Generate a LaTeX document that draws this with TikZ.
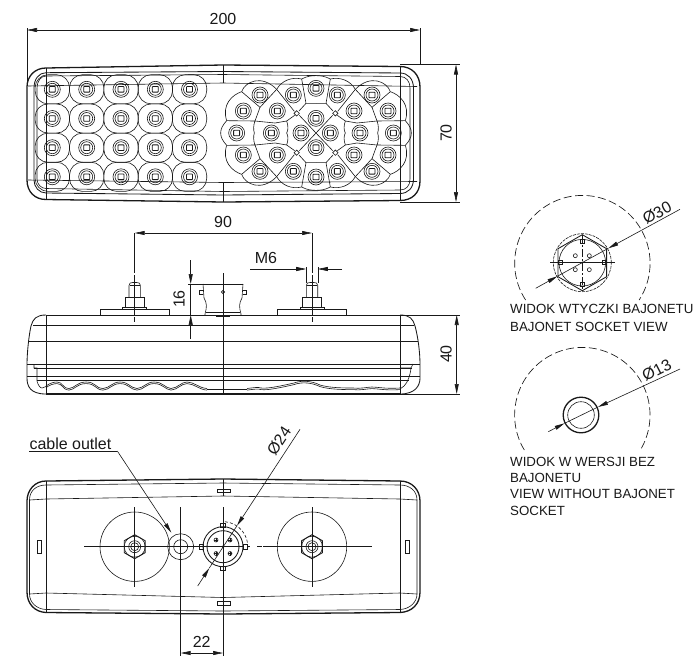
\documentclass[tikz,border=0pt]{standalone}
\usepackage{fontspec}
\setmainfont{Liberation Sans}
\usetikzlibrary{arrows.meta}
\definecolor{ink}{gray}{0.1}
\tikzset{
  thinl/.style={draw=ink,line width=0.6pt},
  medl/.style={draw=ink,line width=0.85pt},
  thickl/.style={draw=ink,line width=1.3pt},
  diml/.style={draw=ink,line width=0.6pt},
  dimar/.style={diml,{Stealth[length=10pt,width=4pt,inset=0pt]}-{Stealth[length=10pt,width=4pt,inset=0pt]}},
  endar/.style={diml,-{Stealth[length=10pt,width=4pt,inset=0pt]}},
  dashc/.style={draw=ink,line width=0.65pt,dash pattern=on 7pt off 3pt},
  dimtext/.style={font=\fontsize{16}{18}\selectfont,text=ink,inner sep=0pt},
  captext/.style={font=\fontsize{13.3}{16}\selectfont,text=ink,inner sep=0pt,anchor=west},
}
\newcommand{\ledmark}[2]{%
  \draw[thinl] (#1,#2) circle (8pt);
  \draw[thinl] (#1,#2) circle (6pt);
  \draw[medl,rounded corners=0.6pt] (#1,#2) ++(-3pt,-2.8pt) rectangle ++(6pt,5.6pt);
}
\newcommand{\studnut}[1]{%
  \draw[thinl] (#1-34.5,315) -- (#1-34.5,309) -- (#1+34.5,309) -- (#1+34.5,315);
  \draw[thinl] (#1-12,309) -- (#1-12,307) -- (#1+12,307) -- (#1+12,309);
  \draw[thinl] (#1-9.5,307) -- (#1-9.5,297) -- (#1+9.5,297) -- (#1+9.5,307);
  \draw[thinl] (#1-5.7,297) -- (#1-5.7,285.5) .. controls (#1-5.7,283) and (#1-4,282.5) .. (#1-2,282.5) -- (#1+2,282.5) .. controls (#1+4,282.5) and (#1+5.7,283) .. (#1+5.7,285.5) -- (#1+5.7,297);
  \draw[thinl] (#1-5.2,285) -- (#1+5.2,285);
}
\newcommand{\hexbolt}[1]{%
  \draw[medl] (#1,534.7) -- (#1+10.4,540.7) -- (#1+10.4,552.7) -- (#1,558.7) -- (#1-10.4,552.7) -- (#1-10.4,540.7) -- cycle;
  \draw[thinl] (#1,546.7) circle (10.5pt);
  \draw[thinl] (#1,546.7) circle (6pt);
  \draw[thinl] (#1,546.7) circle (4pt);
  \draw[thinl] (#1,546.7) circle (34.7pt);
  \draw[thinl] (#1,507) -- (#1,587);
}
\begin{document}
\begin{tikzpicture}[x=1pt,y=-1pt]
\useasboundingbox (0,0) rectangle (700,659);
\fill[white] (0,0) rectangle (700,659);

%% ---------- TOP VIEW ----------
\draw[thickl] (46,68) -- (223,65) -- (400,66.5) .. controls (412,66.5) and (420,75) .. (420,87)
  -- (420,181) .. controls (420,193) and (412,200.5) .. (400,200.5) -- (223,202) -- (46,199.5)
  .. controls (35,199.5) and (27,192) .. (27,180) -- (27,87) .. controls (27,76) and (35,68) .. (46,68) -- cycle;
\draw[medl] (46,72.7) -- (223,71.5) -- (400,73) .. controls (408,73) and (413.5,79) .. (413.5,88)
  -- (413.5,179) .. controls (413.5,188) and (408,193.5) .. (400,193.5) -- (223,195) -- (46,193)
  .. controls (39,193) and (34,187) .. (34,180) -- (34,88) .. controls (34,79) and (39,72.7) .. (46,72.7) -- cycle;
\draw[thinl] (46,76) -- (223,74.5) -- (400,76.5) .. controls (406,76.5) and (410,81) .. (410,88)
  -- (410,179) .. controls (410,186) and (406,190) .. (400,190) -- (223,191.5) -- (46,188.5)
  .. controls (41,188.5) and (37,184) .. (37,179) -- (37,88) .. controls (37,81) and (41,76) .. (46,76) -- cycle;
\draw[thinl] (28,86) -- (223,83) -- (417,86.5);
\draw[thinl] (28,180) -- (223,182.5) -- (417,181.5);
\draw[thinl] (46,68) -- (46,199.5);
\draw[thinl] (400,66.5) -- (400,200.5);
\draw[thinl] (223,65) -- (223,83);
\draw[thinl] (223,182.5) -- (223,202);
% left matrix of lenses
\foreach \cx in {52.3,86.7,121,155.3,189.5}{
  \foreach \cy in {89.3,118.5,147.7,176.8}{
    \draw[thinl,rounded corners=13pt] (\cx-17.2,\cy-14.6) rectangle (\cx+17.2,\cy+14.6);
  }
}
\foreach \cx in {52.3,86.7,121,155.3,189.5}{
  \foreach \cy in {89.3,118.5,147.7,176.8}{
    \ledmark{\cx}{\cy}
  }
}
% right cluster of lenses (one quadrant mirrored)
\begin{scope}[shift={(220,50)},x=0.33333pt,y=-0.33333pt]
\foreach \sx/\sy in {1/1,-1/1,1/-1,-1/-1}{
\begin{scope}[shift={(288,249)},xscale=\sx,yscale=\sy,shift={(-288,-249)}]
  \draw[thinl] (65,125) .. controls (75,95) and (125,72) .. (170,118);
  \draw[thinl] (170,118) .. controls (185,92) and (215,80) .. (245,87);
  \draw[thinl] (245,87) .. controls (262,78) and (275,77) .. (288,77);
  \draw[thinl] (245,87) -- (258,160) -- (288,160);
  \draw[thinl] (170,118) -- (223,184);
  \draw[thinl] (258,160) -- (237,183);
  \draw[thinl] (65,125) -- (120,172) -- (170,118);
  \draw[thinl] (65,125) .. controls (35,135) and (5,165) .. (20,212);
  \draw[thinl] (120,172) -- (105,213);
  \draw[thinl] (20,212) -- (105,213) .. controls (100,225) and (100,240) .. (103,249);
  \draw[thinl] (20,212) .. controls (8,225) and (2,237) .. (2,249);
  \draw[thinl] (105,213) -- (165,219) -- (200,213) -- (224,196);
  \draw[thinl] (200,213) .. controls (205,228) and (205,240) .. (200,249);
  \draw[thinl] (238,196) -- (288,249);
  \draw[thinl] (230,182) -- (238,190) -- (230,198) -- (222,190) -- cycle;
\end{scope}
}
\end{scope}
\foreach \lx/\ly in {120/135,220/135,288/115,352/135,456/135,
   70/183,172/183,288/205,402/183,504/183,
   50/249,154/249,243/249,331/249,420/249,520/249,
   70/315,172/315,288/293,402/315,504/315,
   120/364,220/364,288/381,352/364,456/364}{
  \pgfmathsetmacro{\px}{220+\lx/3}
  \pgfmathsetmacro{\py}{50+\ly/3}
  \ledmark{\px}{\py}
}
% dimensions of the top view
\coordinate (w200a) at (27,30);
\coordinate (w200b) at (420,30);
\draw[diml] (27,28) -- (27,86);
\draw[diml] (420,28) -- (420,65);
\draw[dimar] (w200a) -- (w200b);
\node[dimtext] (t200) at (223,19) {200};
\draw[diml] (400,64.5) -- (460,64.5);
\draw[diml] (400,202) -- (460,202);
\coordinate (h70a) at (456,64.5);
\coordinate (h70b) at (456,202);
\draw[dimar] (h70a) -- (h70b);
\node[dimtext,rotate=90] (t70) at (446,133) {70};

%% ---------- SIDE VIEW ----------
\draw[medl] (46,315) -- (420,315);
\draw[thickl,draw=ink] (46,394) -- (400,394);
\draw[medl] (46,315) .. controls (36,315) and (33,319) .. (31,326) .. controls (29,335) and (27,352) .. (27,365) -- (27,378) .. controls (27,386) and (30,394) .. (46,394);
\draw[medl] (400,315) .. controls (410,315) and (413,319) .. (415,326) .. controls (418,337) and (420,352) .. (420,365) -- (420,378) .. controls (420,386) and (415,394) .. (400,394);
\foreach \ly/\la/\lb in {325.7/33/414,341/29/418,364/27/420,368/34/412,376/27/420,380/37/409}{
  \draw[thinl] (\la,\ly) -- (\lb,\ly);
}
\draw[thinl] (34,364) -- (34,368) -- (37,368) -- (37,381) .. controls (38,385) and (40,388) .. (42,388) -- (46,386.5);
\draw[thinl] (413,364) -- (411,368) -- (400,368);
\draw[thinl] (411,368) .. controls (410,376) and (408,382) .. (404,386) -- (400,389);
\draw[thinl] (46,315) -- (46,394);
\draw[thinl] (400,315) -- (400,394);
% lens waves
\foreach \dy in {0,1.6}{
\draw[thinl] (46,386+\dy) .. controls (50,383+\dy) and (54,382+\dy) .. (57,382+\dy)
 .. controls (63,382+\dy) and (62,388+\dy) .. (69,388.5+\dy) .. controls (75,388+\dy) and (77,382+\dy) .. (86,382+\dy)
 .. controls (96,382+\dy) and (95,388+\dy) .. (103,388.5+\dy) .. controls (110,388+\dy) and (112,382+\dy) .. (120,382+\dy)
 .. controls (129,382+\dy) and (130,388+\dy) .. (137,388.5+\dy) .. controls (144,388+\dy) and (146,382+\dy) .. (154,382+\dy)
 .. controls (163,382+\dy) and (165,388+\dy) .. (171,388.5+\dy) .. controls (178,388+\dy) and (181,382+\dy) .. (187,382+\dy)
 .. controls (194,382+\dy) and (199,388+\dy) .. (207,388.5+\dy);
\draw[thinl] (247,388.5+\dy) .. controls (255,387.5+\dy) and (258,387+\dy) .. (261,388+\dy)
 .. controls (268,389+\dy) and (285,385+\dy) .. (294,383+\dy) .. controls (302,380+\dy) and (312,381+\dy) .. (320,385+\dy)
 .. controls (330,388+\dy) and (345,388+\dy) .. (353,388+\dy) .. controls (360,389+\dy) and (368,387+\dy) .. (372,387+\dy)
 .. controls (378,387+\dy) and (385,389+\dy) .. (400,388+\dy);
}
\draw[thinl] (207,389) -- (247,389);
% studs
\studnut{134.7}
\studnut{312}
\draw[dashc,dash pattern=on 40pt off 2pt] (134.7,233) -- (134.7,322);
\draw[dashc,dash pattern=on 40pt off 2pt] (312,233) -- (312,322);
% socket
\draw[thinl] (203,284) -- (243,284);
\draw[thinl] (203,284) -- (204,298) .. controls (207,303) and (207,307) .. (205,314) -- (205,315);
\draw[thinl] (243,284) -- (242,298) .. controls (239,303) and (239,307) .. (241,314) -- (241,315);
\draw[thinl] (206,312) -- (240,312);
\draw[thinl] (203,290) -- (199.5,290) -- (199.5,294) -- (203.4,294);
\draw[thinl] (243,290) -- (246.5,290) -- (246.5,294) -- (242.6,294);
\draw[thinl] (223,292) circle (1.6pt);
\fill[ink] (216,315.5) rectangle (230,317);
\draw[medl] (223,273) -- (223,394);
% dimensions of the side view
\draw[dimar] (134.7,233) -- (312,233);
\node[dimtext] (t90) at (223,222) {90};
\draw[diml] (306.2,267) -- (306.2,283);
\draw[diml] (317.8,267) -- (317.8,283);
\coordinate (m6a) at (250,269);
\coordinate (m6b) at (306.2,269);
\coordinate (m6c) at (342,269);
\coordinate (m6d) at (317.8,269);
\draw[endar] (m6a) -- (m6b);
\draw[endar] (m6c) -- (m6d);
\node[dimtext] (tm6) at (266,258) {M6};
\coordinate (d16a) at (190.7,260);
\coordinate (d16b) at (190.7,284);
\coordinate (d16c) at (190.7,339);
\coordinate (d16d) at (190.7,315);
\draw[endar] (d16a) -- (d16b);
\draw[endar] (d16c) -- (d16d);
\draw[diml] (d16b) -- (d16d);
\draw[diml] (188,284) -- (203,284);
\node[dimtext,rotate=90] (t16) at (179,299) {16};
\draw[diml] (420,315) -- (460,315);
\draw[diml] (400,394) -- (460,394);
\coordinate (d40a) at (456.7,315);
\coordinate (d40b) at (456.7,394);
\draw[dimar] (d40a) -- (d40b);
\node[dimtext,rotate=90] (t40) at (446,354) {40};

%% ---------- BOTTOM VIEW ----------
\draw[thickl] (46,481) -- (223,479) -- (400,481) .. controls (412,481) and (420,490) .. (420,501)
  -- (420,592) .. controls (420,604) and (412,612) .. (400,612.5) -- (223,614) -- (46,612.5)
  .. controls (35,612) and (27,604) .. (27,592) -- (27,501) .. controls (27,490) and (35,481) .. (46,481) -- cycle;
\draw[thinl] (46,485) -- (223,483) -- (400,485) .. controls (410,485) and (417,491) .. (417,500)
  -- (417,594) .. controls (417,602) and (410,609) .. (400,609.5) -- (223,611) -- (46,609.5)
  .. controls (36,609) and (29.5,602) .. (29.5,594) -- (29.5,500) .. controls (29.5,491) and (36,485) .. (46,485);
\draw[thinl] (29.5,500) -- (46,499) -- (223,496) -- (400,499) -- (417,500);
\draw[thinl] (29.5,594) -- (46,593) -- (223,597.5) -- (400,593) -- (417,594);
\draw[thinl] (46,481) -- (46,612.5);
\draw[thinl] (400,481) -- (400,612.5);
\draw[thinl] (37.7,540) rectangle (41.7,553);
\draw[thinl] (405,540) rectangle (409,553);
\draw[thinl] (217,489) rectangle (230,492.5);
\draw[thinl] (217,601.5) rectangle (230,605);
% bolts and discs
\hexbolt{134.7}
\hexbolt{312}
\draw[thinl] (180.7,546.7) circle (13pt);
\draw[thinl] (180.7,546.7) circle (7pt);
\draw[thinl] (84,546.7) -- (244,546.7);
\draw[thinl] (247,546.7) -- (250,546.7);
\draw[thinl] (257,546.7) -- (262,546.7);
\draw[thinl] (263,546.7) -- (372,546.7);
\draw[thinl] (180.7,507) -- (180.7,656);
\draw[thinl] (223,479) -- (223,496);
\draw[thinl] (223,507) -- (223,656);
% connector
\draw[medl] (223,546.7) circle (20pt);
\draw[medl] (223,546.7) circle (16pt);
\draw[thinl] (199,544.2) rectangle (203,549.2);
\draw[thinl] (243,544.2) rectangle (247,549.2);
\draw[thinl] (220.5,523) rectangle (225.5,527);
\draw[thinl] (220.5,566.5) rectangle (225.5,570.5);
\foreach \px/\py in {216/540,230/540,216/553.5,230/553.5}{
  \draw[thinl] (\px,\py) circle (2pt);
  \draw[thinl] (\px-2,\py) -- (\px+2,\py);
  \draw[thinl] (\px,\py-2) -- (\px,\py+2);
}
\fill[ink] (223,546.7) circle (1.4pt);
\draw[thinl,dash pattern=on 3pt off 2pt] (225,521.7) arc (275:365:25);
% cable outlet leader
\coordinate (loa) at (29.3,451);
\coordinate (lob) at (117.3,451);
\coordinate (loc) at (171.3,532.7);
\draw[diml] (loa) -- (lob);
\draw[endar] (lob) -- (loc);
\node[dimtext,anchor=west] (tcable) at (29.3,443.5) {cable outlet};
% diameter 24
\coordinate (d24a) at (300,429.3);
\coordinate (d24b) at (237,525.7);
\coordinate (d24c) at (197.7,586);
\coordinate (d24d) at (209.3,568);
\draw[endar] (d24a) -- (d24b);
\draw[endar] (d24c) -- (d24d);
\draw[diml] (d24b) -- (d24d);
\node[dimtext,rotate=57] (t24) at (279,441) {Ø24};
% dimension 22
\draw[dimar] (180.7,653) -- (223,653);
\node[dimtext] (t22) at (201.7,642) {22};

%% ---------- DETAIL WITH SOCKET ----------
\draw[dashc,dash pattern=on 8pt off 3.5pt] (525.6,300) arc (147:393:67.7);
\draw[thinl,dash pattern=on 3pt off 1pt] (582.3,262.7) circle (29pt);
\draw[medl] (582.3,234.7) -- (606.6,248.7) -- (606.6,276.7) -- (582.3,290.7) -- (558,276.7) -- (558,248.7) -- cycle;
\draw[thinl] (582.3,262.7) circle (23.3pt);
\foreach \sx/\sy in {0/-21.7,0/21.7,-21.7/0,21.7/0}{
  \draw[thinl] (582.3+\sx-2,262.7+\sy-2) rectangle ++(4,4);
}
\foreach \sx/\sy in {-7/-7,7/-7,-7/7,7/7}{
  \draw[thinl] (582.3+\sx,262.7+\sy) circle (2pt);
}
\draw[thinl] (550,262.7) -- (615,262.7);
\draw[thinl,dash pattern=on 8pt off 2pt on 2pt off 2pt] (582.3,235) -- (582.3,290);
\coordinate (d30a) at (680,209.3);
\coordinate (d30b) at (608.3,248.3);
\coordinate (d30c) at (535.7,288.3);
\coordinate (d30d) at (557.3,276.3);
\draw[endar] (d30a) -- (d30b);
\draw[endar] (d30c) -- (d30d);
\draw[diml] (d30b) -- (d30d);
\fill[ink] (582.3,262.7) circle (1.2pt);
\node[dimtext,rotate=28] (t30) at (657,213) {Ø30};
\node[captext] (c1) at (510,309) {WIDOK WTYCZKI BAJONETU};
\node[captext] (c2) at (510,326.7) {BAJONET SOCKET VIEW};

%% ---------- DETAIL WITHOUT SOCKET ----------
\draw[dashc,dash pattern=on 8pt off 3.5pt] (524.3,450) arc (149:391:67.7);
\draw[thickl] (581,415) circle (17.8pt);
\draw[thinl] (581,415) circle (13.3pt);
\coordinate (d13a) at (680,369);
\coordinate (d13b) at (598,407);
\coordinate (d13c) at (548.3,431.7);
\coordinate (d13d) at (564.5,423.3);
\draw[endar] (d13a) -- (d13b);
\draw[endar] (d13c) -- (d13d);
\draw[diml] (d13b) -- (d13d);
\node[dimtext,rotate=27] (t13) at (656.7,370) {Ø13};
\node[captext] (c3) at (510,462.3) {WIDOK W WERSJI BEZ};
\node[captext] (c4) at (510,477.7) {BAJONETU};
\node[captext] (c5) at (510,494.3) {VIEW WITHOUT BAJONET};
\node[captext] (c6) at (510,511) {SOCKET};
\end{tikzpicture}
\end{document}
